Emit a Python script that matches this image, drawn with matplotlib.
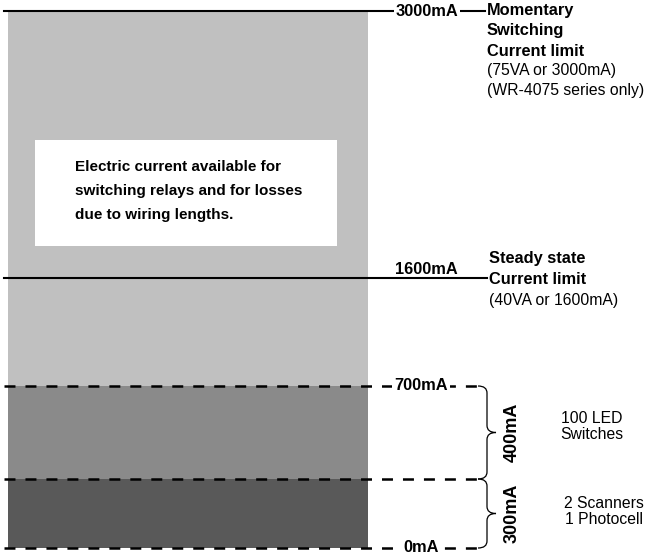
import numpy as np
import matplotlib
matplotlib.use("Agg")
import matplotlib.pyplot as plt
from matplotlib.path import Path
from matplotlib.patches import PathPatch, Rectangle
from matplotlib.transforms import IdentityTransform

plt.rcParams['font.family'] = ['Liberation Sans', 'DejaVu Sans']
plt.rcParams['lines.scale_dashes'] = False

# ---- data (mA) ----
band_names = ["2 Scanners\n1 Photocell", "100 LED\nSwitches", "available"]
band_bottoms = [0, 300, 700]
band_tops = [300, 700, 3000]
band_labels = ["300mA", "400mA"]
dashed_levels = [0, 300, 700]
dashed_labels = ["0mA", None, "700mA"]
limit_levels = [1600, 3000]
limit_labels = ["1600mA", "3000mA"]
band_colors = ["#595959", "#8a8a8a", "#c0c0c0"]

W, H = 647, 554
fig = plt.figure(figsize=(W / 100, H / 100), dpi=100)

# piecewise-linear schematic scale (layout of the diagram)
scale_levels = np.array([0, 300, 700, 1600, 3000], dtype=float)
scale_px = np.array([548, 479, 386, 278, 11], dtype=float)
scale_u = (548 - scale_px) / (548 - 11)


def fwd(v):
    return np.interp(v, scale_levels, scale_u)


def inv(u):
    return np.interp(u, scale_u, scale_levels)


ax = fig.add_axes([0, (H - 548) / H, 1, (548 - 11) / H])
ax.set_yscale('function', functions=(fwd, inv))
ax.set_xlim(0, W)
ax.set_ylim(0, 3000)
ax.axis('off')

# stacked bands
heights = [t - b for b, t in zip(band_bottoms, band_tops)]
ax.bar(188, heights, bottom=band_bottoms, width=360, color=band_colors,
       edgecolor='none', zorder=1)

# white note box
fig.patches.append(Rectangle((35 / W, 1 - 246 / H), (337 - 35) / W, (246 - 140) / H,
                             transform=fig.transFigure, facecolor='white',
                             edgecolor='none', zorder=2))
box_lines = ["Electric current available for",
             "switching relays and for losses",
             "due to wiring lengths."]
for i, s in enumerate(box_lines):
    fig.text(75 / W, 1 - (167 + 24 * i) / H, s, fontsize=11, fontweight='bold',
             ha='left', va='center', zorder=3)

# limit lines (solid)
ax.plot([4, 485], [limit_levels[1]] * 2, color='black', lw=1.5, clip_on=False, zorder=3)
ax.plot([4, 487], [limit_levels[0]] * 2, color='black', lw=1.5, clip_on=False, zorder=3)

# dashed lines
for lvl in dashed_levels:
    ax.plot([4, 480], [lvl, lvl], color='black', lw=1.8, linestyle=(0, (7.9, 7.2)),
            clip_on=False, zorder=3)

fs = 11.8
fs_r = 11.3
ax.annotate(limit_labels[1], xy=(427, limit_levels[1]), ha='center', va='center',
            fontsize=fs, fontweight='bold', zorder=5, annotation_clip=False,
            bbox=dict(boxstyle='square,pad=0.12', fc='white', ec='none'))
ax.annotate(limit_labels[0], xy=(426, limit_levels[0]), xytext=(0, 8),
            textcoords='offset pixels', ha='center', va='center',
            fontsize=fs, fontweight='bold', zorder=5, annotation_clip=False)
for lvl, lab in zip(dashed_levels, dashed_labels):
    if lab:
        ax.annotate(lab, xy=(421, lvl), ha='center', va='center', fontsize=fs,
                    fontweight='bold', zorder=5, annotation_clip=False,
                    bbox=dict(boxstyle='square,pad=0.12', fc='white', ec='none'))

# limit descriptions
top_block = [("Momentary", 'bold'), ("Switching", 'bold'), ("Current limit", 'bold'),
             ("(75VA or 3000mA)", 'normal'), ("(WR-4075 series only)", 'normal')]
for i, (s, w) in enumerate(top_block):
    ax.annotate(s, xy=(487, limit_levels[1]), xytext=(0, -20 * i),
                textcoords='offset pixels', ha='left', va='center',
                fontsize=fs if w == 'bold' else fs_r, fontweight=w,
                annotation_clip=False)
mid_block = [("Steady state", 'bold'), ("Current limit", 'bold'),
             ("(40VA or 1600mA)", 'normal')]
for i, (s, w) in enumerate(mid_block):
    ax.annotate(s, xy=(489, limit_levels[0]), xytext=(0, 20 - 21 * i),
                textcoords='offset pixels', ha='left', va='center',
                fontsize=fs if w == 'bold' else fs_r, fontweight=w,
                annotation_clip=False)

fig.canvas.draw()


def brace(y0, y1, x0=478, w=18, r=7):
    (_, p0) = ax.transData.transform((x0, y0))
    (_, p1) = ax.transData.transform((x0, y1))
    xa = ax.transData.transform((x0, y0))[0]
    xm = xa + w / 2
    xt = xa + w
    pm = (p0 + p1) / 2
    verts = [(xa, p1), (xm, p1), (xm, p1 - r),
             (xm, pm + r), (xm, pm), (xt, pm),
             (xm, pm), (xm, pm - r),
             (xm, p0 + r), (xm, p0), (xa, p0)]
    codes = [Path.MOVETO, Path.CURVE3, Path.CURVE3,
             Path.LINETO, Path.CURVE3, Path.CURVE3,
             Path.CURVE3, Path.CURVE3,
             Path.LINETO, Path.CURVE3, Path.CURVE3]
    fig.patches.append(PathPatch(Path(verts, codes), transform=IdentityTransform(),
                                 fill=False, edgecolor='black', lw=0.9))


for b, t, lab, name in zip(band_bottoms[:2], band_tops[:2], band_labels, band_names[:2]):
    brace(b, t)
    mid = inv((fwd(b) + fwd(t)) / 2)
    ax.annotate(lab, xy=(512, mid), ha='center', va='center', rotation=90,
                fontsize=13, fontweight='bold', annotation_clip=False)
    xc = 592 if b > 0 else 604
    ax.annotate(name, xy=(xc, mid), xytext=(0, 6 if b > 0 else 2),
                textcoords='offset pixels', ha='center', va='center',
                fontsize=fs_r, linespacing=1.15, annotation_clip=False)

fig.savefig("out.png", dpi=100)
